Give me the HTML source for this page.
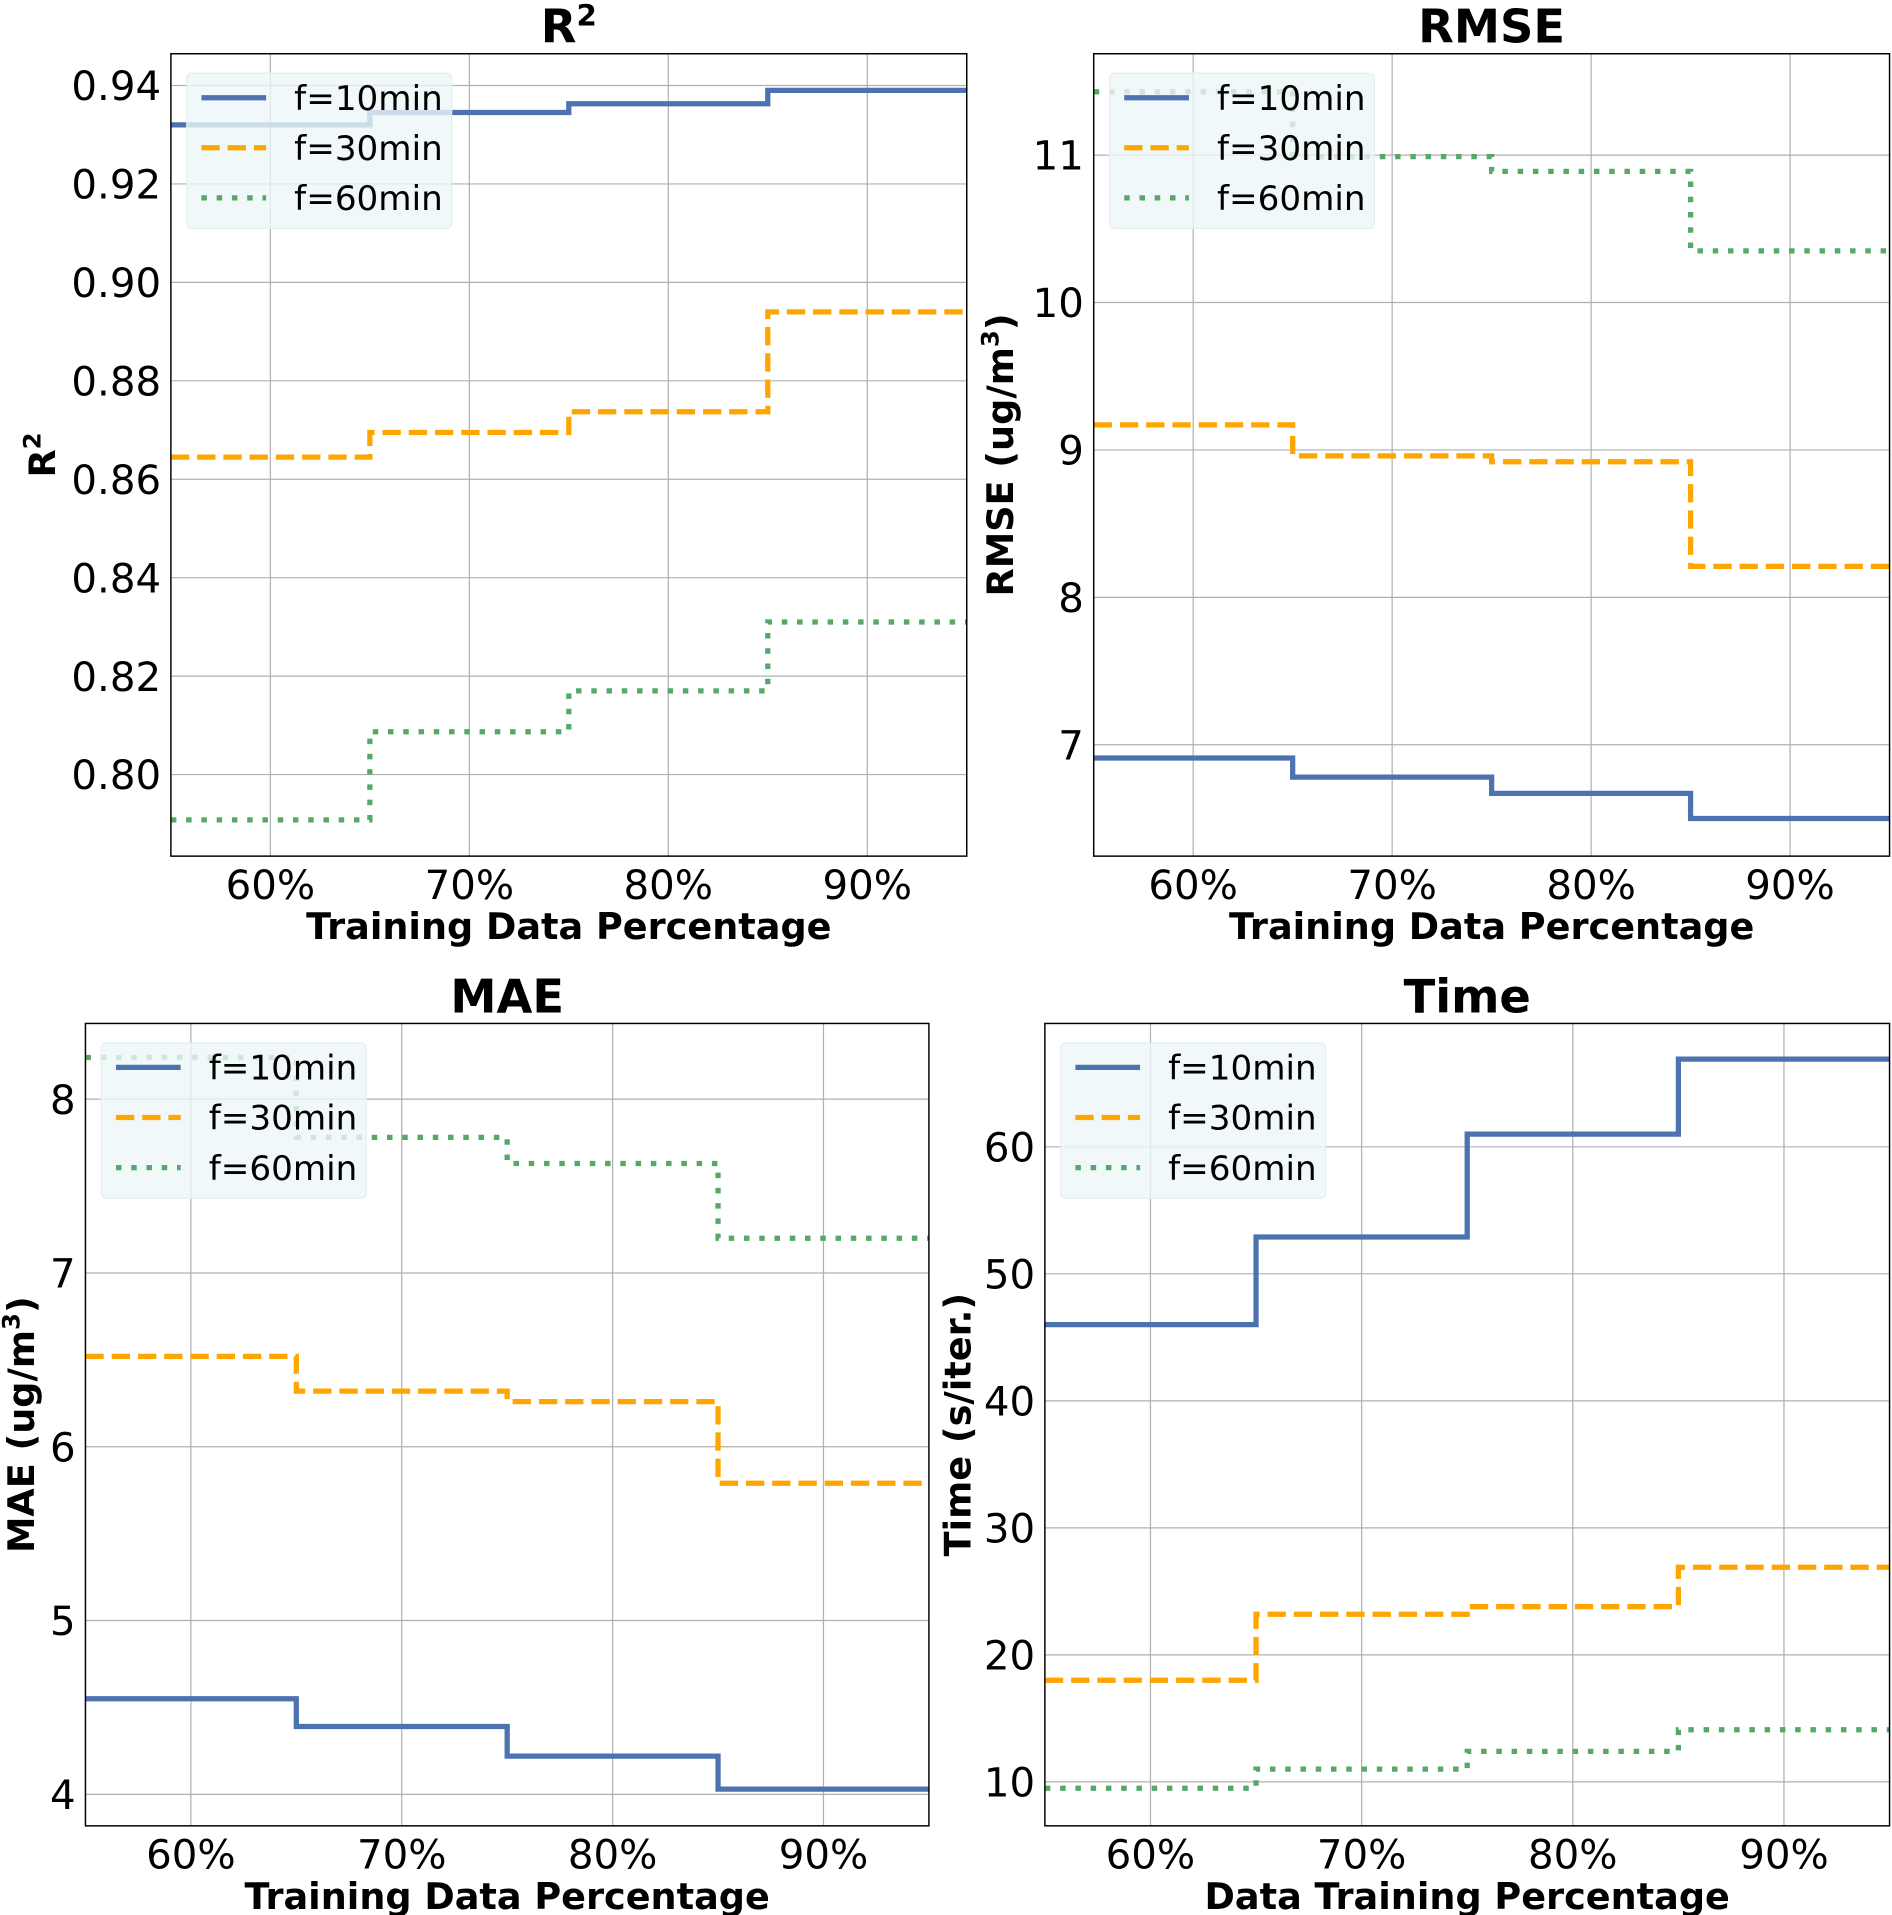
<!DOCTYPE html>
<html><head><meta charset="utf-8"><style>
html,body{margin:0;padding:0;background:#fff;}
svg{display:block;font-family:"DejaVu Sans","Liberation Sans",sans-serif;}
</style></head><body>
<svg id="fig" width="1892" height="1915" viewBox="0 0 1550 1568" preserveAspectRatio="none" xmlns="http://www.w3.org/2000/svg"></svg>
<script>
const categories = [60, 70, 80, 90];
const seriesNames = ["f=10min", "f=30min", "f=60min"];
const r2F10 = [0.932, 0.9345, 0.9363, 0.939];
const r2F30 = [0.8645, 0.8695, 0.8737, 0.894];
const r2F60 = [0.7908, 0.8087, 0.8170, 0.831];
const rmseF10 = [6.91, 6.78, 6.67, 6.50];
const rmseF30 = [9.17, 8.96, 8.92, 8.21];
const rmseF60 = [11.43, 10.99, 10.89, 10.35];
const maeF10 = [4.55, 4.39, 4.22, 4.03];
const maeF30 = [6.52, 6.32, 6.26, 5.79];
const maeF60 = [8.24, 7.78, 7.63, 7.20];
const timeF10 = [46, 52.9, 61, 66.9];
const timeF30 = [18, 23.2, 23.8, 26.9];
const timeF60 = [9.5, 11, 12.4, 14.1];
const xTicks = [60, 70, 80, 90];
const r2Ticks = [0.80, 0.82, 0.84, 0.86, 0.88, 0.90, 0.92, 0.94];
const rmseTicks = [7, 8, 9, 10, 11];
const maeTicks = [4, 5, 6, 7, 8];
const timeTicks = [10, 20, 30, 40, 50, 60];

const NS = "http://www.w3.org/2000/svg";
const svg = document.getElementById("fig");
const colors = ["#4c72b0", "#ffa500", "#55a868"];
const dashes = [null, "15,6.5", "4.5,8"];
const LW = 4.3;

function el(tag, attrs, parent) {
  const e = document.createElementNS(NS, tag);
  for (const k in attrs) e.setAttribute(k, attrs[k]);
  (parent || svg).appendChild(e);
  return e;
}

function panel(p) {
  const g = el("g", {});
  
  
  const X = v => p.L + (v - 55) / 40 * (p.R - p.L);
  const Y = v => p.y0 + (v - p.v0) * p.k;
  xTicks.forEach(t => {
    const l = el("line", {x1: X(t), x2: X(t), y1: p.T, y2: p.B, stroke: "#b0b0b0", "stroke-width": 1}, g);
    
    
    const tx = el("text", {x: X(t), y: p.B + 35, "font-size": 33, "text-anchor": "middle", fill: "#000"}, g);
    tx.textContent = t + "%";
    
    
  });
  p.ticks.forEach(t => {
    const y = Y(t);
    const l = el("line", {x1: p.L, x2: p.R, y1: y, y2: y, stroke: "#b0b0b0", "stroke-width": 1}, g);
    
    
    const tx = el("text", {x: p.L - 8, y: y + 12, "font-size": 33, "text-anchor": "end", fill: "#000"}, g);
    tx.textContent = p.fmt(t);
    
    
  });
  p.series.forEach((vals, i) => {
    let d = "M" + X(55) + "," + Y(vals[0]);
    for (let j = 0; j < vals.length; j++) {
      const xe = j < vals.length - 1 ? (categories[j] + categories[j + 1]) / 2 : 95;
      d += " L" + X(xe) + "," + Y(vals[j]);
      if (j < vals.length - 1) d += " L" + X(xe) + "," + Y(vals[j + 1]);
    }
    const a = {d: d, fill: "none", stroke: colors[i], "stroke-width": LW};
    if (dashes[i]) a["stroke-dasharray"] = dashes[i];
    const path = el("path", a, g);
    
    
  });
  const fr = el("rect", {x: p.L, y: p.T, width: p.R - p.L, height: p.B - p.T, fill: "none", stroke: "#000", "stroke-width": 1.2}, g);
  
  
  const lg = el("g", {}, g);
  
  
  const lx = p.L + 13, ly = p.T + 16;
  el("rect", {x: lx, y: ly, width: 217, height: 127, rx: 4, fill: "#eef6f8", "fill-opacity": 0.8, stroke: "#e4eef2"}, lg);
  seriesNames.forEach((n, i) => {
    const yy = ly + 20 + i * 41;
    const a = {x1: lx + 12, x2: lx + 65, y1: yy, y2: yy, stroke: colors[i], "stroke-width": LW};
    if (dashes[i]) a["stroke-dasharray"] = dashes[i];
    const ln = el("line", a, lg);
    
    
    const t = el("text", {x: lx + 88, y: yy + 10, "font-size": 28, fill: "#000"}, lg);
    t.textContent = n;
    
    
  });
  const ti = el("text", {x: (p.L + p.R) / 2, y: p.T - 9, "font-size": 38, "font-weight": "bold", "text-anchor": "middle"}, g);
  ti.innerHTML = p.title;
  
  
  const xl = el("text", {x: (p.L + p.R) / 2, y: p.B + 68, "font-size": 30, "font-weight": "bold", "text-anchor": "middle"}, g);
  xl.textContent = p.xlabel;
  
  
  const cy = (p.T + p.B) / 2;
  const yl = el("text", {x: p.ylx, y: cy, "font-size": 30, "font-weight": "bold", "text-anchor": "middle", transform: "rotate(-90 " + p.ylx + " " + cy + ")"}, g);
  yl.innerHTML = p.ylabel;
  
  
}

panel({key: "r2", L: 140, R: 792, T: 44, B: 701, v0: 0.94, y0: 70, k: -80.6 / 0.02, ticks: r2Ticks,
  fmt: t => t.toFixed(2), series: [r2F10, r2F30, r2F60], title: 'R<tspan dy="-14" font-size="24">2</tspan>',
  xlabel: "Training Data Percentage", ylabel: 'R<tspan dy="-12" font-size="20">2</tspan>', ylx: 45});
panel({key: "rmse", L: 896, R: 1548, T: 44, B: 701, v0: 11, y0: 127, k: -120.7, ticks: rmseTicks,
  fmt: t => String(t), series: [rmseF10, rmseF30, rmseF60], title: "RMSE",
  xlabel: "Training Data Percentage", ylabel: 'RMSE (ug/m<tspan dy="-12" font-size="20">3</tspan><tspan dy="12">)</tspan>', ylx: 830});
panel({key: "mae", L: 70, R: 761, T: 838, B: 1495, v0: 8, y0: 900, k: -142.3, ticks: maeTicks,
  fmt: t => String(t), series: [maeF10, maeF30, maeF60], title: "MAE",
  xlabel: "Training Data Percentage", ylabel: 'MAE (ug/m<tspan dy="-12" font-size="20">3</tspan><tspan dy="12">)</tspan>', ylx: 28});
panel({key: "time", L: 856, R: 1548, T: 838, B: 1495, v0: 60, y0: 939, k: -10.4, ticks: timeTicks,
  fmt: t => String(t), series: [timeF10, timeF30, timeF60], title: "Time",
  xlabel: "Data Training Percentage", ylabel: "Time (s/iter.)", ylx: 795});
</script>
</body></html>
